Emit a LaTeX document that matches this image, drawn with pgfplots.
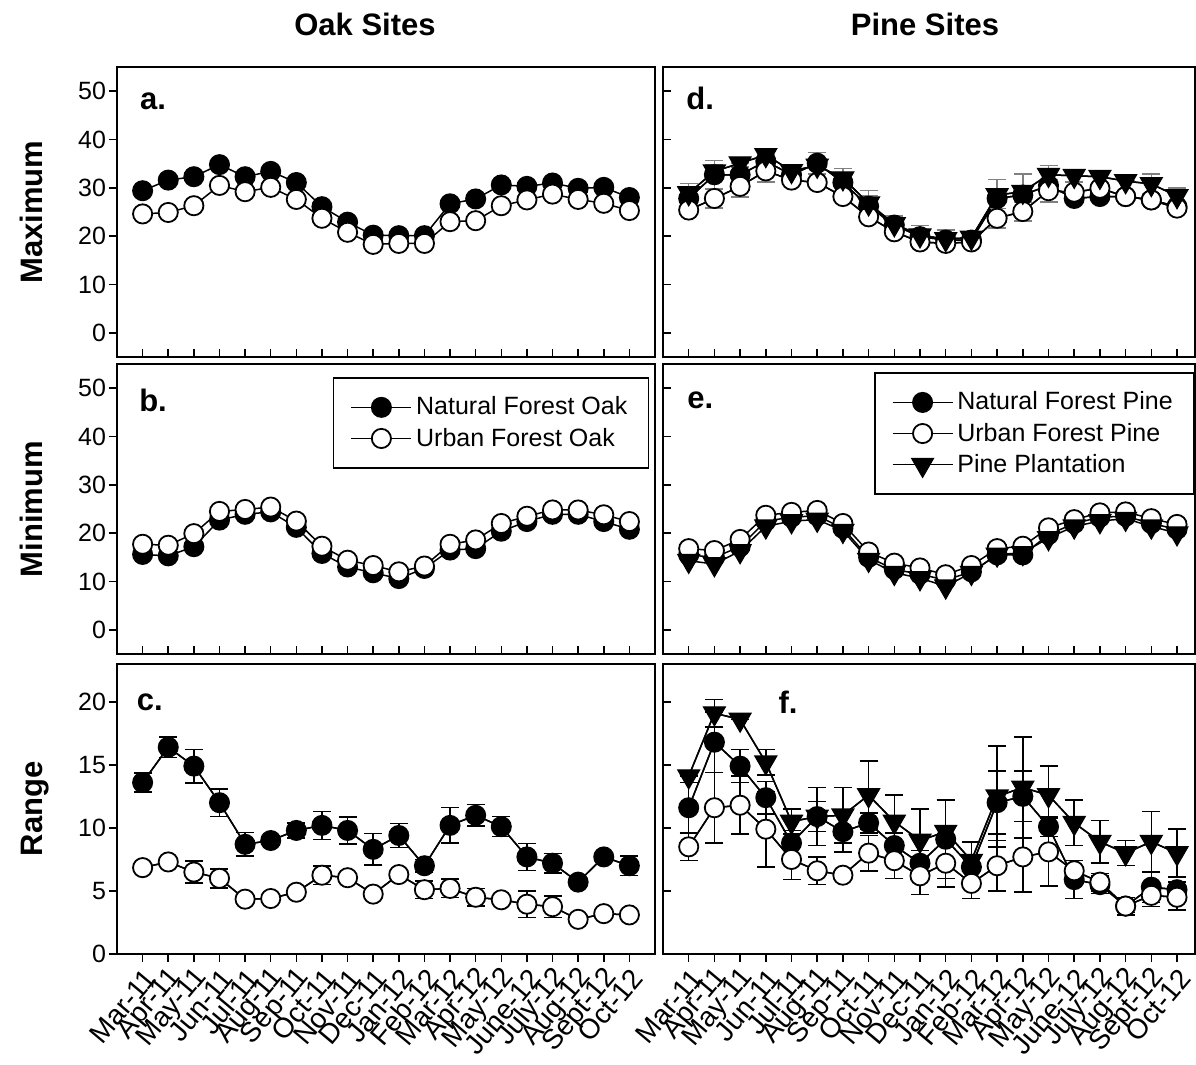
\documentclass[border=0pt]{standalone}
\usepackage{fontspec}
\setmainfont{Liberation Sans}
\usepackage{pgfplots}
\pgfplotsset{compat=1.18}
\usepackage{pgfplotstable}

% Monthly temperature summaries, Mar 2011 - Oct 2012 (month index 0..19)
\pgfplotstableread{
x nat urb
0 29.4 24.6
1 31.6 24.9
2 32.3 26.3
3 34.8 30.5
4 32.3 29.2
5 33.4 30.1
6 31.1 27.6
7 26.1 23.7
8 22.9 20.8
9 20.2 18.3
10 20.1 18.5
11 20.1 18.5
12 26.7 23.0
13 27.7 23.2
14 30.6 26.3
15 30.3 27.5
16 31.0 28.7
17 29.9 27.6
18 30.1 26.8
19 28.0 25.3
}\oakmax

\pgfplotstableread{
x nat urb
0 15.6 17.7
1 15.3 17.5
2 17.2 19.9
3 22.7 24.5
4 23.9 24.9
5 24.4 25.4
6 21.2 22.5
7 15.8 17.3
8 13.0 14.4
9 11.8 13.3
10 10.6 12.0
11 12.7 13.2
12 16.5 17.7
13 16.8 18.6
14 20.4 22.0
15 22.4 23.5
16 23.9 24.8
17 23.9 24.8
18 22.4 23.8
19 20.8 22.4
}\oakmin

\pgfplotstableread{
x nat natE urb urbE
0 13.6 0.77 6.85 0
1 16.4 0.80 7.3 0
2 14.9 1.33 6.5 0.86
3 12.0 1.10 6.0 0.75
4 8.7 0.93 4.35 0
5 9.0 0.40 4.4 0
6 9.8 0.60 4.9 0
7 10.2 1.10 6.25 0.73
8 9.8 1.06 6.05 0
9 8.3 1.24 4.75 0
10 9.4 0.94 6.3 0
11 7.0 0.50 5.1 0.68
12 10.2 1.40 5.2 0.73
13 11.0 0.84 4.5 0.70
14 10.1 0.80 4.3 0
15 7.7 1.06 3.95 1.05
16 7.2 0.77 3.75 0.84
17 5.7 0.30 2.75 0
18 7.7 0.30 3.2 0
19 7.0 0.76 3.1 0
}\oakrng

\pgfplotstableread{
x nat natE urb urbE pl plE
0 27.8 0 25.4 0 28.9 2.0
1 32.7 3.0 27.8 2.0 33.4 1.3
2 32.7 1.6 30.3 2.2 35.1 0
3 35.5 0 33.5 2.3 36.8 0
4 32.7 0 31.6 0 33.5 0
5 35.1 2.2 31.1 0 34.6 0
6 31.1 0 28.2 0 32.0 2.0
7 26.2 2.2 24.0 0 26.8 2.6
8 22.3 0 20.9 0 22.5 1.7
9 19.9 0 18.8 0 20.2 2.0
10 19.2 0 18.5 0 19.4 1.9
11 19.2 0 18.8 0 19.7 0
12 27.8 3.9 23.7 2.0 28.5 0
13 28.5 0 25.1 2.0 29.2 3.7
14 30.5 0 29.4 2.3 32.7 1.9
15 27.8 0 29.1 0 32.5 1.3
16 28.2 0 29.9 0 32.3 1.2
17 28.2 0 28.2 0 31.4 0
18 27.5 0 27.5 0 30.8 2.1
19 26.1 0 25.8 0 28.3 1.7
}\pinemax

\pgfplotstableread{
x nat urb pl
0 15.5 16.8 14.3
1 15.0 16.4 13.6
2 17.2 18.7 16.3
3 22.5 23.7 21.4
4 23.3 24.3 22.5
5 23.6 24.7 22.8
6 21.0 22.0 20.5
7 15.0 16.1 14.5
8 12.5 13.8 11.8
9 11.5 12.8 10.7
10 10.3 11.4 9.0
11 12.0 13.3 11.8
12 15.5 16.8 15.6
13 15.5 17.3 15.9
14 19.7 21.1 19.0
15 22.0 22.8 21.4
16 23.3 24.2 22.5
17 23.5 24.4 23.0
18 22.0 23.0 21.4
19 20.8 21.8 20.0
}\pinemin

\pgfplotstableread{
x nat natE urb urbE pl plE
0 11.6 2.0 8.5 1.1 14.1 0
1 16.8 2.4 11.6 2.8 19.1 1.1
2 14.9 1.3 11.8 2.3 18.6 0
3 12.4 1.3 9.9 3.0 15.2 1.0
4 8.8 1.0 7.5 1.6 10.5 1.0
5 10.9 1.2 6.6 1.1 10.9 2.3
6 9.7 1.6 6.25 0 11.0 2.2
7 10.4 0.8 8.0 1.4 12.6 2.7
8 8.6 1.0 7.4 1.4 10.5 2.1
9 7.2 1.0 6.2 1.5 9.0 2.5
10 9.1 3.1 7.2 1.9 9.7 2.5
11 6.9 1.0 5.6 1.2 7.4 1.5
12 12.0 2.5 7.0 2.0 12.5 4.0
13 12.5 2.0 7.7 2.8 13.2 4.0
14 10.1 0.8 8.1 2.7 12.6 2.3
15 5.9 1.5 6.6 0 10.4 1.8
16 5.5 0.7 5.7 0.7 8.9 1.7
17 3.8 0.5 3.8 0.7 8.0 1.0
18 5.3 1.2 4.65 0.9 8.9 2.4
19 5.1 0.6 4.5 1.0 8.0 1.9
}\pinerng

\tikzset{tag/.style={font=\bfseries\fontsize{15.5}{18}\selectfont}}

\pgfplotsset{
  panel/.style={
    scale only axis, anchor=north west,
    xmin=-1, xmax=20, width=269pt, height=145pt,
    xtick={0,...,19}, xticklabels={},
    xtick pos=lower, ytick pos=left,
    axis line style={line width=0.9pt},
    tick style={line width=0.75pt, black},
    major tick length=4pt,
    ticklabel style={font=\fontsize{12.5}{15}\selectfont},
    yticklabel style={xshift=2pt},
    /pgf/number format/assume math mode=true,
    clip=false,
  },
  left panel/.style={ytick align=outside},
  right panel/.style={xmax=19.7, width=266pt, yticklabels={}, ytick align=inside},
  temp axis/.style={ymin=-5, ymax=55, ytick={0,10,...,50}},
  range axis/.style={ymin=0, ymax=23, ytick={0,5,...,20}},
  month labels/.style={
    xtick align=outside,
    xticklabels={Mar-11,Apr-11,May-11,Jun-11,Jul-11,Aug-11,Sep-11,Oct-11,Nov-11,Dec-11,Jan-12,Feb-12,Mar-12,Apr-12,May-12,June-12,July-12,Aug-12,Sept-12,Oct-12},
    xticklabel style={xshift=4.5pt, yshift=-5pt, rotate=50, anchor=east,
      inner sep=0.5pt, font=\fontsize{14}{16}\selectfont},
  },
  natural/.style={black, line width=0.75pt, mark=*, mark size=4.8pt,
    mark options={fill=black, line width=0.9pt}},
  urban/.style={black, line width=0.75pt, mark=*, mark size=4.8pt,
    mark options={fill=white, line width=0.9pt}},
  plantation/.style={black, line width=0.75pt, mark=triangle*, mark size=6.3pt,
    mark options={rotate=180, fill=black, line width=0.6pt}},
  errs/.style={black, line width=0.75pt, no marks, forget plot,
    error bars/.cd, y dir=both, y explicit,
    error bar style={line width=0.75pt, #1},
    error mark options={rotate=90, mark size=4.5pt, line width=0.75pt, #1}},
  errs/.default=black,
  panel legend/.style={
    legend style={draw=black, line width=0.75pt, fill=white,
      font=\fontsize{12.5}{15}\selectfont, cells={anchor=west},
      inner xsep=8.5pt, inner ysep=7.5pt, row sep=1pt},
    legend image code/.code={
      \draw[mark repeat=2, mark phase=2] plot coordinates {(0pt,0pt) (15pt,0pt) (30pt,0pt)};},
  },
}

\begin{document}
\begin{tikzpicture}
\path[use as bounding box] (0,0) rectangle (598pt,-532.5pt);

% ---------------- Oak sites ----------------
\begin{axis}[panel, left panel, temp axis, at={(58.5pt,-33.5pt)}]
  \addplot[natural] table[x=x, y=nat] {\oakmax};
  \addplot[urban] table[x=x, y=urb] {\oakmax};
  \node[tag] at (rel axis cs:0.067,0.883) {a.};
\end{axis}

\begin{axis}[panel, left panel, temp axis, at={(58.5pt,-182pt)}, panel legend,
  legend style={at={(0.989,0.955)}, anchor=north east}]
  \addplot[natural] table[x=x, y=nat] {\oakmin};
  \addlegendentry{Natural Forest Oak}
  \addplot[urban] table[x=x, y=urb] {\oakmin};
  \addlegendentry{Urban Forest Oak}
  \node[tag] at (rel axis cs:0.067,0.876) {b.};
\end{axis}

\begin{axis}[panel, left panel, range axis, month labels, at={(58.5pt,-332pt)}]
  \addplot[errs] table[x=x, y=nat, y error=natE] {\oakrng};
  \addplot[natural] table[x=x, y=nat] {\oakrng};
  \addplot[errs] table[x=x, y=urb, y error=urbE] {\oakrng};
  \addplot[urban] table[x=x, y=urb] {\oakrng};
  \node[tag] at (rel axis cs:0.061,0.869) {c.};
\end{axis}

% ---------------- Pine sites ----------------
\begin{axis}[panel, right panel, temp axis, at={(331.5pt,-33.5pt)}]
  \addplot[errs=gray] table[x=x, y=nat, y error=natE] {\pinemax};
  \addplot[natural] table[x=x, y=nat] {\pinemax};
  \addplot[errs=gray] table[x=x, y=urb, y error=urbE] {\pinemax};
  \addplot[urban] table[x=x, y=urb] {\pinemax};
  \addplot[errs=gray] table[x=x, y=pl, y error=plE] {\pinemax};
  \addplot[plantation] table[x=x, y=pl] {\pinemax};
  \node[tag] at (rel axis cs:0.07,0.89) {d.};
\end{axis}

\begin{axis}[panel, right panel, temp axis, at={(331.5pt,-182pt)}, panel legend,
  legend style={at={(0.999,0.972)}, anchor=north east}]
  \addplot[natural] table[x=x, y=nat] {\pinemin};
  \addlegendentry{Natural Forest Pine}
  \addplot[urban] table[x=x, y=urb] {\pinemin};
  \addlegendentry{Urban Forest Pine}
  \addplot[plantation] table[x=x, y=pl] {\pinemin};
  \addlegendentry{Pine Plantation}
  \node[tag] at (rel axis cs:0.07,0.876) {e.};
\end{axis}

\begin{axis}[panel, right panel, range axis, month labels, at={(331.5pt,-332pt)}]
  \addplot[errs] table[x=x, y=nat, y error=natE] {\pinerng};
  \addplot[natural] table[x=x, y=nat] {\pinerng};
  \addplot[errs] table[x=x, y=urb, y error=urbE] {\pinerng};
  \addplot[urban] table[x=x, y=urb] {\pinerng};
  \addplot[errs] table[x=x, y=pl, y error=plE] {\pinerng};
  \addplot[plantation] table[x=x, y=pl] {\pinerng};
  \node[tag] at (rel axis cs:0.235,0.869) {f.};
\end{axis}

% column and row titles
\node[tag, anchor=base] at (182.5pt,-18pt) {Oak Sites};
\node[tag, anchor=base] at (462.5pt,-18pt) {Pine Sites};
\node[tag, anchor=base, rotate=90] at (21pt,-106pt) {Maximum};
\node[tag, anchor=base, rotate=90] at (21pt,-254.5pt) {Minimum};
\node[tag, anchor=base, rotate=90] at (21pt,-404.5pt) {Range};
\end{tikzpicture}
\end{document}
